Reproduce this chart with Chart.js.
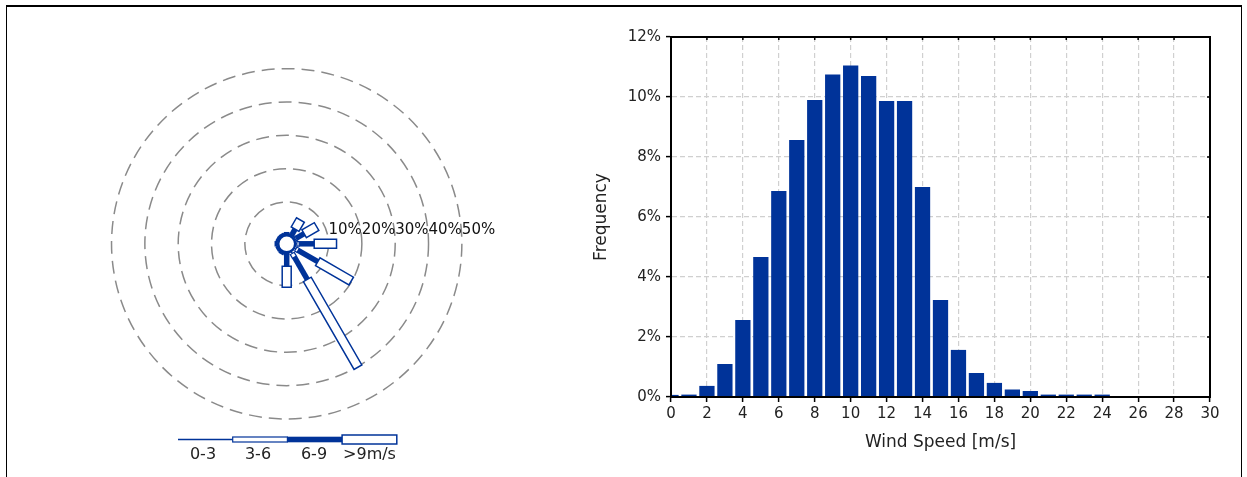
<!DOCTYPE html>
<html>
<head>
<meta charset="utf-8">
<script src="https://cdn.jsdelivr.net/npm/chart.js@4.4.1/dist/chart.umd.min.js"></script>
<style>
  html, body { margin: 0; padding: 0; background: #fff; }
  body { width: 1247px; height: 477px; position: relative; overflow: hidden; }
  #frame { position: absolute; left: 6px; top: 5px; width: 1234px; height: 490px;
           border-top: 2.5px solid #000; border-left: 1.5px solid #000; border-right: 1.5px solid #000; }
  #leftBox { position: absolute; left: 0; top: 0; width: 560px; height: 477px; }
  #rightBox { position: absolute; left: 560px; top: 0; width: 687px; height: 477px; }
</style>
</head>
<body>
<div id="frame"></div>
<div id="leftBox"><canvas id="rose" width="560" height="477"></canvas></div>
<div id="rightBox"><canvas id="hist" width="687" height="477"></canvas></div>
<script>
// ---------------- DATA ----------------
// Wind rose: direction sectors (degrees, clockwise from north)
const directions = [0, 30, 60, 90, 120, 150, 180, 210, 240, 270, 300, 330];
// frequency (%) per speed class for each direction
const class0to3 = [0.2, 0.3, 0.4, 0.5, 0.6, 0.8, 0.2, 0.2, 0.2, 0.3, 0.2, 0.2];
const class3to6 = [0.2, 0.3, 0.4, 0.7, 0.8, 1.3, 0.3, 0.2, 0.2, 0.2, 0.2, 0.2];
const class6to9 = [0.6, 1.9, 2.7, 4.5, 6.8, 7.7, 3.7, 0.6, 0.5, 0.6, 0.5, 0.5];
const class9up  = [0.0, 3.2, 4.3, 6.7, 11.6, 30.4, 6.3, 0.0, 0.0, 0.0, 0.0, 0.0];
const ringLevels = [10, 20, 30, 40, 50];
const ringLabels = ['10%', '20%', '30%', '40%', '50%'];
const speedClassLabels = ['0-3', '3-6', '6-9', '>9m/s'];

// Histogram: wind speed bins (m/s) and frequency (%)
const windSpeeds = [0, 1, 2, 3, 4, 5, 6, 7, 8, 9, 10, 11, 12, 13, 14, 15, 16, 17, 18, 19, 20, 21, 22, 23, 24];
const frequencies = [0.07, 0.08, 0.37, 1.1, 2.57, 4.67, 6.87, 8.57, 9.9, 10.75, 11.05, 10.7, 9.87, 9.87, 7.0, 3.23, 1.57, 0.8, 0.47, 0.25, 0.2, 0.08, 0.08, 0.08, 0.08];
const xTickStep = 2;
const yTickStep = 2;

// ---------------- STYLE ----------------
const FONT = '"DejaVu Sans", Verdana, sans-serif';
const BLUE = '#003399';
const HUB = 2.55; // hub radius in % units
Chart.defaults.font.family = FONT;
Chart.defaults.color = '#222';

// ---------------- WIND ROSE ----------------
const rosePlugin = {
  id: 'rose',
  afterDatasetsDraw(chart) {
    const { ctx, scales: { x, y } } = chart;
    const P = (r, deg) => {
      const a = deg * Math.PI / 180;
      return [x.getPixelForValue(r * Math.sin(a)), y.getPixelForValue(r * Math.cos(a))];
    };
    const [cx, cy] = P(0, 0);
    ctx.save();
    // rings
    ctx.strokeStyle = '#8a8a8a';
    ctx.lineWidth = 1.5;
    ctx.setLineDash([13, 7]);
    ringLevels.forEach(l => {
      const rp = x.getPixelForValue(HUB + l) - cx;
      ctx.beginPath();
      ctx.arc(cx, cy, rp, 0, Math.PI * 2);
      ctx.stroke();
    });
    ctx.setLineDash([]);

    const quad = (r0, r1, deg, w) => {
      const p0 = P(r0, deg), p1 = P(r1, deg);
      let dx = p1[0] - p0[0], dy = p1[1] - p0[1];
      const L = Math.hypot(dx, dy) || 1;
      dx /= L; dy /= L;
      const nx = -dy * w / 2, ny = dx * w / 2;
      ctx.beginPath();
      ctx.moveTo(p0[0] + nx, p0[1] + ny);
      ctx.lineTo(p1[0] + nx, p1[1] + ny);
      ctx.lineTo(p1[0] - nx, p1[1] - ny);
      ctx.lineTo(p0[0] - nx, p0[1] - ny);
      ctx.closePath();
    };

    directions.forEach((deg, i) => {
      let r = HUB;
      const v1 = class0to3[i];
      if (v1 > 0) {
        const a = P(r, deg), b = P(r + v1, deg);
        ctx.strokeStyle = BLUE; ctx.lineWidth = 1.5;
        ctx.beginPath(); ctx.moveTo(a[0], a[1]); ctx.lineTo(b[0], b[1]); ctx.stroke();
        r += v1;
      }
      const v2 = class3to6[i];
      if (v2 > 0) {
        quad(r, r + v2, deg, 4.5);
        ctx.fillStyle = '#fff'; ctx.fill();
        ctx.strokeStyle = BLUE; ctx.lineWidth = 1.2; ctx.stroke();
        r += v2;
      }
      const v3 = class6to9[i];
      if (v3 > 0) {
        quad(r, r + v3, deg, 5.5);
        ctx.fillStyle = BLUE; ctx.fill();
        r += v3;
      }
      const v4 = class9up[i];
      if (v4 > 0) {
        quad(r, r + v4, deg, 9);
        ctx.fillStyle = '#fff'; ctx.fill();
        ctx.strokeStyle = BLUE; ctx.lineWidth = 1.5; ctx.stroke();
        r += v4;
      }
    });

    // hub circle
    const hr = x.getPixelForValue(HUB) - cx;
    ctx.beginPath();
    ctx.arc(cx, cy, hr, 0, Math.PI * 2);
    ctx.fillStyle = '#fff'; ctx.fill();
    ctx.strokeStyle = BLUE; ctx.lineWidth = 2.5; ctx.stroke();

    // ring labels
    ctx.font = '15px ' + FONT;
    ctx.fillStyle = '#111';
    ctx.textAlign = 'left';
    ctx.textBaseline = 'middle';
    ringLevels.forEach((l, i) => {
      const px = x.getPixelForValue(HUB + l);
      ctx.fillText(ringLabels[i], px, cy - 14);
    });

    // speed class legend
    const ly = 439.5, lx0 = 178, seg = 54.7;
    ctx.strokeStyle = BLUE; ctx.lineWidth = 1.5;
    ctx.beginPath(); ctx.moveTo(lx0, ly); ctx.lineTo(lx0 + seg, ly); ctx.stroke();
    ctx.fillStyle = '#fff';
    ctx.fillRect(lx0 + seg, ly - 2.5, seg, 5);
    ctx.lineWidth = 1.2; ctx.strokeRect(lx0 + seg, ly - 2.5, seg, 5);
    ctx.fillStyle = BLUE;
    ctx.fillRect(lx0 + 2 * seg, ly - 2.8, seg, 5.6);
    ctx.fillStyle = '#fff';
    ctx.fillRect(lx0 + 3 * seg, ly - 4.5, seg, 9);
    ctx.lineWidth = 1.5; ctx.strokeRect(lx0 + 3 * seg, ly - 4.5, seg, 9);
    ctx.fillStyle = '#222';
    ctx.textAlign = 'center';
    ctx.font = '16px ' + FONT;
    const labelX = [203, 258, 314, 369.5];
    speedClassLabels.forEach((t, i) => ctx.fillText(t, labelX[i], 454.5));
    ctx.restore();
  }
};

new Chart(document.getElementById('rose'), {
  type: 'scatter',
  data: { datasets: [{ data: [], showLine: false }] },
  options: {
    responsive: false,
    animation: false,
    events: [],
    layout: { padding: { left: 86.7, right: 73.3, top: 43.8, bottom: 33.2 } },
    plugins: { legend: { display: false }, tooltip: { enabled: false } },
    scales: {
      x: { type: 'linear', min: -60, max: 60, display: false },
      y: { type: 'linear', min: -60, max: 60, display: false }
    }
  },
  plugins: [rosePlugin]
});

// ---------------- HISTOGRAM ----------------
const framePlugin = {
  id: 'frame',
  afterDraw(chart) {
    const { ctx, chartArea: a, scales: { x, y } } = chart;
    ctx.save();
    ctx.strokeStyle = '#000';
    ctx.lineWidth = 2;
    ctx.strokeRect(a.left, a.top, a.right - a.left, a.bottom - a.top);
    ctx.lineWidth = 1.5;
    ctx.beginPath();
    x.ticks.forEach(t => {
      const px = x.getPixelForValue(t.value);
      ctx.moveTo(px, a.top); ctx.lineTo(px, a.top + 3);
    });
    y.ticks.forEach(t => {
      const py = y.getPixelForValue(t.value);
      ctx.moveTo(a.right, py); ctx.lineTo(a.right - 3, py);
    });
    ctx.stroke();
    ctx.restore();
  }
};

new Chart(document.getElementById('hist'), {
  type: 'bar',
  data: {
    datasets: [{
      data: windSpeeds.map((s, i) => ({ x: s, y: frequencies[i] })),
      backgroundColor: BLUE,
      borderWidth: 0,
      barPercentage: 0.85,
      categoryPercentage: 1.0
    }]
  },
  options: {
    responsive: false,
    animation: false,
    events: [],
    layout: { padding: { left: 27, right: 37, top: 37, bottom: 20 } },
    plugins: { legend: { display: false }, tooltip: { enabled: false } },
    scales: {
      x: {
        type: 'linear', min: 0, max: 30, offset: false,
        afterFit(s) { s.height = 60; },
        ticks: { stepSize: xTickStep, font: { size: 15 }, color: '#222', padding: 3, maxRotation: 0 },
        grid: { color: '#d0d0d0', lineWidth: 1.2, offset: false, tickLength: 5, tickColor: '#000', tickWidth: 1.5, tickBorderDash: [] },
        border: { color: '#000', width: 2, dash: [5, 3] },
        title: { display: true, text: 'Wind Speed [m/s]', font: { size: 17 }, color: '#222' }
      },
      y: {
        type: 'linear', min: 0, max: 12,
        afterFit(s) { s.width = 84; },
        ticks: { stepSize: yTickStep, font: { size: 15 }, color: '#222', padding: 5, callback: v => v + '%' },
        grid: { color: '#d0d0d0', lineWidth: 1.2, tickLength: 5, tickColor: '#000', tickWidth: 1.5, tickBorderDash: [] },
        border: { color: '#000', width: 2, dash: [5, 3] },
        title: { display: true, text: 'Frequency', font: { size: 17 }, color: '#222' }
      }
    }
  },
  plugins: [framePlugin]
});
</script>
</body>
</html>
